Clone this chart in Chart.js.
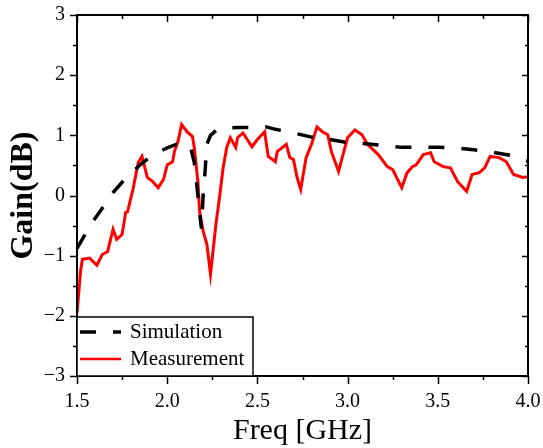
<!DOCTYPE html>
<html>
<head>
<meta charset="utf-8">
<script src="https://cdn.jsdelivr.net/npm/chart.js@4/dist/chart.umd.min.js"></script>
<style>
body{margin:0;background:#fff;}
</style>
</head>
<body>
<canvas id="gainChart" width="543" height="448"></canvas>
<script>
//simulation curve (black dashed)
var simFreq = [1.5,1.55,1.6,1.65,1.7,1.75,1.8,1.85,1.9,1.95,2.0,2.05,2.1,2.13,2.15,2.16,2.17,2.18,2.19,2.2,2.21,2.22,2.24,2.27,2.3,2.4,2.45,2.5,2.55,2.6,2.7,2.8,2.9,3.0,3.1,3.2,3.3,3.4,3.5,3.6,3.7,3.8,3.9,4.0];
var simGain = [-0.88,-0.62,-0.38,-0.17,0.05,0.22,0.37,0.51,0.63,0.72,0.79,0.85,0.86,0.8,0.55,0.3,0.0,-0.3,-0.55,0.05,0.4,0.85,1.0,1.08,1.12,1.13,1.13,1.15,1.14,1.1,1.04,0.97,0.93,0.88,0.86,0.83,0.8,0.8,0.8,0.79,0.76,0.72,0.67,0.57];

//measurement curve (red)
var measFreq = [1.5,1.51,1.52,1.53,1.57,1.61,1.64,1.67,1.7,1.72,1.75,1.77,1.78,1.81,1.84,1.86,1.89,1.92,1.95,1.98,2.0,2.03,2.04,2.06,2.08,2.11,2.14,2.15,2.17,2.18,2.2,2.22,2.24,2.25,2.27,2.29,2.31,2.33,2.35,2.38,2.39,2.42,2.47,2.5,2.54,2.56,2.6,2.61,2.66,2.68,2.7,2.72,2.74,2.77,2.8,2.83,2.86,2.89,2.91,2.95,2.97,3.0,3.04,3.08,3.11,3.17,3.22,3.25,3.3,3.33,3.36,3.38,3.42,3.46,3.48,3.53,3.57,3.61,3.66,3.69,3.73,3.76,3.79,3.84,3.88,3.92,3.97,4.0];
var measGain = [-1.95,-1.6,-1.25,-1.06,-1.04,-1.16,-0.98,-0.93,-0.56,-0.73,-0.65,-0.28,-0.27,0.1,0.55,0.65,0.3,0.23,0.13,0.27,0.51,0.56,0.73,0.9,1.18,1.06,0.98,0.8,0.23,-0.27,-0.6,-0.81,-1.31,-1.03,-0.48,-0.03,0.46,0.8,0.96,0.8,0.96,1.04,0.81,0.93,1.06,0.65,0.56,0.73,0.85,0.63,0.6,0.3,0.1,0.63,0.85,1.14,1.06,1.01,0.73,0.4,0.63,0.96,1.09,1.01,0.85,0.68,0.48,0.43,0.13,0.38,0.48,0.51,0.68,0.71,0.56,0.48,0.46,0.23,0.07,0.35,0.38,0.46,0.65,0.63,0.56,0.35,0.3,0.31];

var seriesNames = ["Simulation", "Measurement"];
var xMin = 1.5, xMax = 4.0, xStep = 0.5;
var yMin = -3, yMax = 3, yStep = 1;

var serif = "'Liberation Serif', 'Times New Roman', serif";

function toPoints(xs, ys){
    var pts = [];
    for(var i = 0; i < xs.length; i++){
        pts.push({x: xs[i], y: ys[i]});
    }
    return pts;
}

//frame, inward/outward ticks and boxed legend, drawn like the Origin plot
var framePlugin = {
    id: "frame",
    afterDraw: function(chart){
        var ctx = chart.ctx;
        var area = chart.chartArea;
        var xs = chart.scales.x;
        var ys = chart.scales.y;
        ctx.save();
        ctx.strokeStyle = "#000";
        ctx.lineWidth = 1.5;
        //x ticks: outward at bottom, inward at top
        for(var v = xMin; v <= xMax + 1e-9; v += xStep / 2){
            var px = Math.round(xs.getPixelForValue(v)) + 0.5;
            var major = Math.abs((v - xMin) / xStep - Math.round((v - xMin) / xStep)) < 1e-6;
            var len = major ? 8 : 4;
            ctx.beginPath();
            ctx.moveTo(px, area.bottom);
            ctx.lineTo(px, area.bottom + len);
            ctx.moveTo(px, area.top);
            ctx.lineTo(px, area.top + (major ? 7 : 4));
            ctx.stroke();
        }
        //y ticks: outward at left, inward at right
        for(var w = yMin; w <= yMax + 1e-9; w += yStep / 2){
            var py = Math.round(ys.getPixelForValue(w)) + 0.5;
            var maj = Math.abs(w - Math.round(w)) < 1e-6;
            ctx.beginPath();
            ctx.moveTo(area.left, py);
            ctx.lineTo(area.left - (maj ? 7 : 4), py);
            ctx.moveTo(area.right, py);
            ctx.lineTo(area.right - (maj ? 6 : 3), py);
            ctx.stroke();
        }
        //frame
        ctx.lineWidth = 2;
        ctx.strokeRect(area.left, area.top, area.right - area.left, area.bottom - area.top);

        //legend box
        var lx = area.left, ly = area.bottom - 59, lw = 176, lh = 59;
        ctx.fillStyle = "#fff";
        ctx.fillRect(lx, ly, lw, lh);
        ctx.lineWidth = 1.5;
        ctx.strokeRect(lx, ly, lw, lh);
        var sets = chart.data.datasets;
        var rowY = [ly + 15, ly + 42];
        for(var k = 0; k < sets.length; k++){
            ctx.beginPath();
            ctx.strokeStyle = sets[k].borderColor;
            ctx.lineWidth = k == 0 ? 3.5 : 2.5;
            ctx.setLineDash(sets[k].borderDash || []);
            ctx.moveTo(lx + 3, rowY[k]);
            ctx.lineTo(lx + 44, rowY[k]);
            ctx.stroke();
            ctx.setLineDash([]);
            ctx.fillStyle = "#000";
            ctx.font = "21px " + serif;
            ctx.textBaseline = "alphabetic";
            ctx.textAlign = "left";
            ctx.fillText(sets[k].label, lx + 53, rowY[k] + 6);
        }
        ctx.restore();
    }
};

new Chart(document.getElementById("gainChart"), {
    type: "line",
    data: {
        datasets: [{
            label: seriesNames[0],
            data: toPoints(simFreq, simGain),
            borderColor: "#000000",
            borderWidth: 3.5,
            borderDash: [16, 17],
            pointRadius: 0,
            tension: 0,
            fill: false
        }, {
            label: seriesNames[1],
            data: toPoints(measFreq, measGain),
            borderColor: "#ff0000",
            borderWidth: 3,
            pointRadius: 0,
            tension: 0,
            fill: false
        }]
    },
    options: {
        responsive: false,
        animation: false,
        layout: {padding: {top: 15, right: 15, left: 0, bottom: 0}},
        plugins: {
            legend: {display: false},
            tooltip: {enabled: false}
        },
        scales: {
            x: {
                type: "linear",
                min: xMin,
                max: xMax,
                afterFit: function(scale){
                    scale.height = 72;
                    scale.paddingLeft = 0;
                    scale.paddingRight = 0;
                },
                ticks: {
                    stepSize: xStep,
                    padding: 14,
                    color: "#000",
                    font: {family: serif, size: 20},
                    callback: function(v){ return v.toFixed(1); }
                },
                grid: {display: false, drawTicks: false},
                border: {display: false},
                title: {
                    display: true,
                    text: "Freq [GHz]",
                    color: "#000",
                    font: {family: serif, size: 30, lineHeight: 1.1},
                    padding: 0
                }
            },
            y: {
                type: "linear",
                min: yMin,
                max: yMax,
                afterFit: function(scale){
                    scale.width = 77;
                    scale.paddingTop = 0;
                    scale.paddingBottom = 0;
                },
                ticks: {
                    stepSize: yStep,
                    padding: 12,
                    color: "#000",
                    font: {family: serif, size: 20},
                    callback: function(v){ return String(v).replace("-", "\u2212"); }
                },
                grid: {display: false, drawTicks: false},
                border: {display: false},
                title: {
                    display: true,
                    text: "Gain(dB)",
                    color: "#000",
                    font: {family: serif, size: 32, weight: "bold"},
                    padding: {top: 5, bottom: 0}
                }
            }
        }
    },
    plugins: [framePlugin]
});
</script>
</body>
</html>
